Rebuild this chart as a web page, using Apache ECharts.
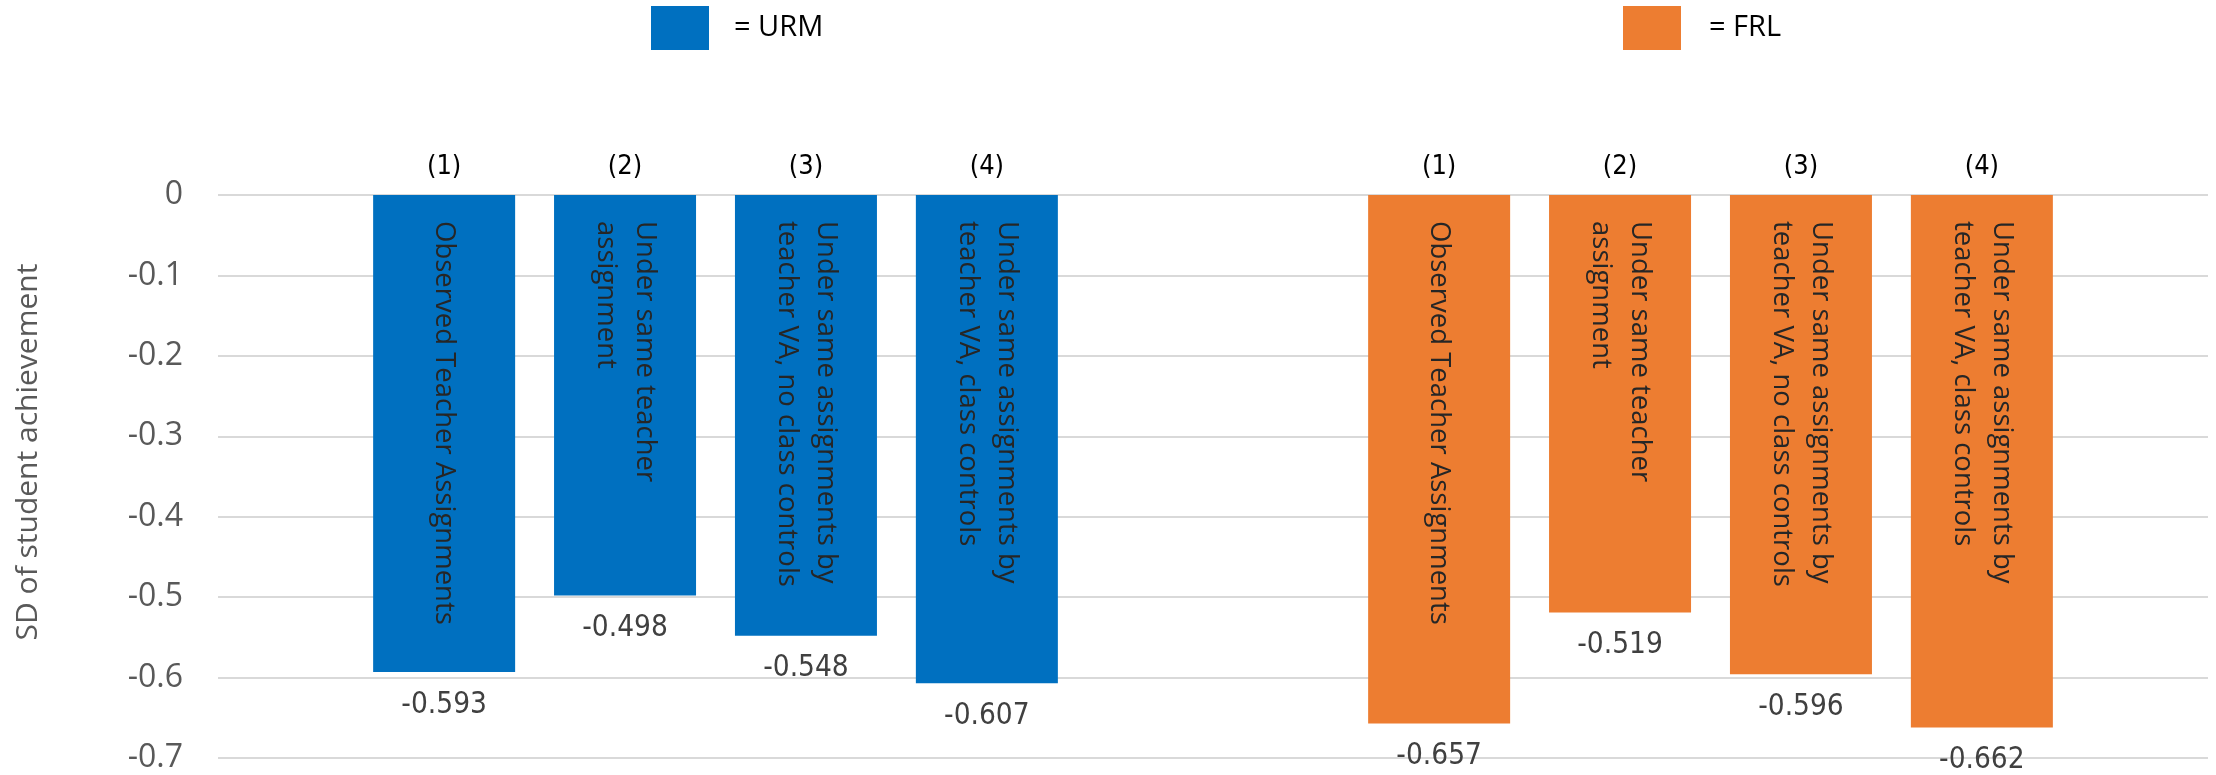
<!DOCTYPE html>
<html>
<head>
<meta charset="utf-8">
<script src="https://cdn.jsdelivr.net/npm/echarts@6/dist/echarts.min.js"></script>
<style>
  html, body { margin: 0; padding: 0; background: #fff; }
  #myEchart { width: 2216px; height: 775px; }
</style>
</head>
<body>
<div id="myEchart"></div>
<script>
  // 数据
  var cases = ['(1)', '(2)', '(3)', '(4)'];
  var scenarios = [
    'Observed Teacher Assignments',
    'Under same teacher\nassignment',
    'Under same assignments by\nteacher VA, no class controls',
    'Under same assignments by\nteacher VA, class controls'
  ];
  var urmValues = [-0.593, -0.498, -0.548, -0.607];
  var frlValues = [-0.657, -0.519, -0.596, -0.662];
  var yMin = -0.7, yMax = 0, yStep = 0.1;
  var yName = 'SD of student achievement';

  // half-width slots on the category axis, so the gap between the two groups fits
  var slotCount = 22;
  var urmStart = 2, frlStart = 13;

  var cats = [], urmData = [], frlData = [], textData = [], textIdx = {};
  for (var i = 0; i < slotCount; i++) {
    cats.push('');
    urmData.push('-');
    frlData.push('-');
    textData.push('-');
  }
  cases.forEach(function (c, k) {
    var a = urmStart + 2 * k, b = frlStart + 2 * k;
    cats[a] = c; cats[b] = c;
    urmData[a] = urmValues[k];
    frlData[b] = frlValues[k];
    textData[a] = urmValues[k]; textIdx[a] = k;
    textData[b] = frlValues[k]; textIdx[b] = k;
  });

  var myEchart = echarts.init(document.getElementById('myEchart'));

  var valueLabel = {
    show: true,
    position: 'bottom',
    distance: 18,
    fontSize: 29.5,
    fontFamily: '"Liberation Sans Narrow", "DejaVu Sans Condensed", sans-serif',
    color: '#404040',
    formatter: function (p) { return p.value.toFixed(3); }
  };

  var legendText = {
    fontSize: 29,
    fontFamily: '"Open Sans", sans-serif',
    color: '#000'
  };

  var option = {
    animation: false,
    color: ['#0070C0', '#ED7D31'],
    grid: { left: 218, right: 8, top: 195, bottom: 17 },
    legend: [
      {
        data: ['URM'], left: 651, top: 6, padding: 0, icon: 'rect',
        itemWidth: 58, itemHeight: 44, selectedMode: false,
        formatter: '= {name}',
        textStyle: Object.assign({ padding: [0, 0, 0, 20] }, legendText)
      },
      {
        data: ['FRL'], left: 1623, top: 6, padding: 0, icon: 'rect',
        itemWidth: 58, itemHeight: 44, selectedMode: false,
        formatter: '= {name}',
        textStyle: Object.assign({ padding: [0, 0, 0, 23] }, legendText)
      }
    ],
    xAxis: {
      type: 'category',
      position: 'top',
      data: cats,
      axisLine: { show: false },
      axisTick: { show: false },
      splitLine: { show: false },
      axisLabel: {
        interval: 0,
        margin: 15,
        fontSize: 27,
        fontFamily: '"Liberation Sans Narrow", "DejaVu Sans Condensed", sans-serif',
        color: '#000'
      }
    },
    yAxis: {
      type: 'value',
      min: yMin,
      max: yMax,
      interval: yStep,
      axisLine: { show: false },
      axisTick: { show: false },
      splitLine: { lineStyle: { color: '#d9d9d9', width: 2 } },
      axisLabel: {
        margin: 35,
        fontSize: 32,
        fontFamily: '"Open Sans", sans-serif',
        color: '#595959'
      }
    },
    graphic: [{
      type: 'text',
      x: 28,
      y: 452,
      rotation: Math.PI / 2,
      style: {
        text: yName,
        fontSize: 30,
        fontFamily: '"Open Sans", sans-serif',
        fill: '#595959',
        align: 'center',
        verticalAlign: 'middle'
      }
    }],
    series: [
      {
        name: 'URM', type: 'bar', data: urmData,
        barWidth: 142, barGap: '-100%',
        label: valueLabel
      },
      {
        name: 'FRL', type: 'bar', data: frlData,
        barWidth: 142, barGap: '-100%',
        label: valueLabel
      },
      {
        name: 'text', type: 'bar', data: textData,
        barWidth: 142, barGap: '-100%',
        itemStyle: { color: 'transparent' },
        silent: true,
        label: {
          show: true,
          position: 'insideTop',
          distance: 26,
          rotate: -90,
          align: 'left',
          verticalAlign: 'middle',
          fontSize: 27.5,
          lineHeight: 39,
          fontFamily: '"Open Sans", sans-serif',
          color: '#262626',
          formatter: function (p) { return scenarios[textIdx[p.dataIndex]]; }
        }
      }
    ]
  };

  myEchart.setOption(option);
</script>
</body>
</html>
